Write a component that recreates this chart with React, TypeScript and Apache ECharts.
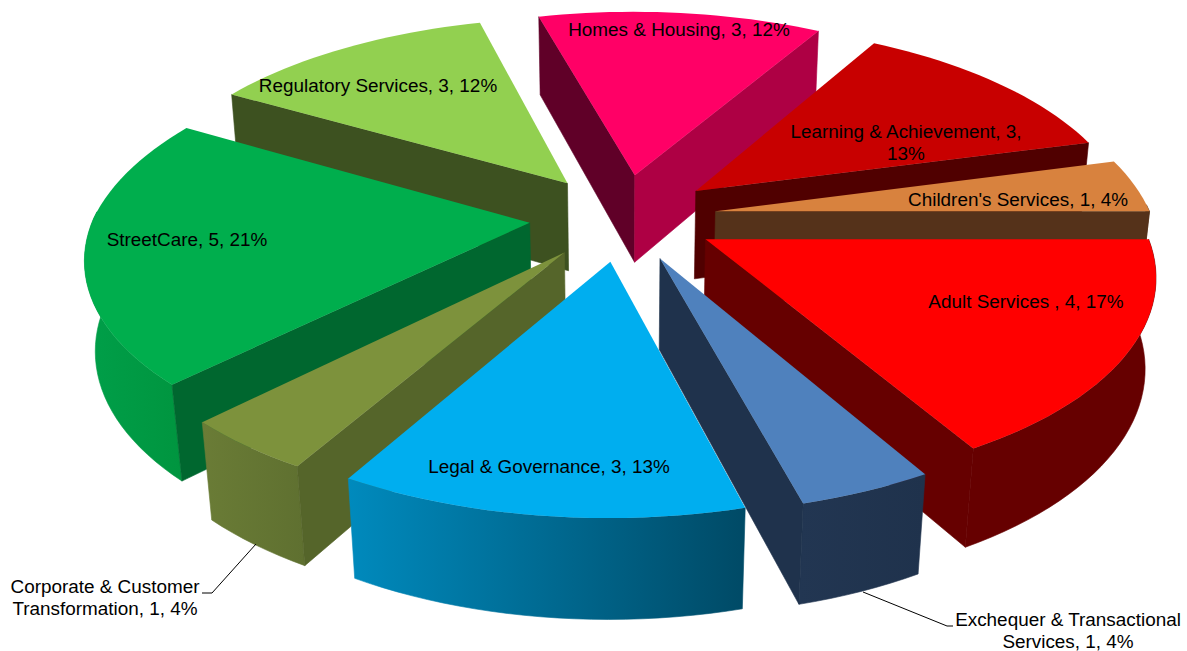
import React, { useEffect, useRef } from "react";
import * as echarts from "echarts";

// Headcount per service, clockwise from the three o'clock position.
const names = [
  "Adult Services ",
  "Exchequer & Transactional Services",
  "Legal & Governance",
  "Corporate & Customer Transformation",
  "StreetCare",
  "Regulatory Services",
  "Homes & Housing",
  "Learning & Achievement",
  "Children's Services",
];
const values = [4, 1, 3, 1, 5, 3, 3, 3, 1];
const percents = [17, 4, 13, 4, 21, 12, 12, 13, 4];

// Face colours: top, cut wall, rim gradient left and right.
const palette = [
  ["#FF0000", "#660000", "#660000", "#660000"],
  ["#4F81BD", "#1F324C", "#223652", "#1F324C"],
  ["#00AEEF", "#00506E", "#008ABD", "#004A66"],
  ["#7D923C", "#55652A", "#6A7C36", "#5F7030"],
  ["#00AE4D", "#00672F", "#009F49", "#00953F"],
  ["#92D050", "#3D5120", "#3D5120", "#3D5120"],
  ["#FF0066", "#AE0044", "#AE0044", "#AE0044"],
  ["#C80000", "#500000", "#500000", "#500000"],
  ["#D8823E", "#55321A", "#55321A", "#55321A"],
];
// Left-hand cut wall of the slice that shows both of its cut faces.
const startWallColours: Record<number, string> = { 6: "#600028" };

// Text placement, as centre x / middle y, and where a label wraps.
const labelLayout = [
  { x: 1026, y: 301 },
  { x: 1068, y: 630, wrap: "Transactional " },
  { x: 549, y: 466 },
  { x: 105, y: 597, wrap: "Customer " },
  { x: 187, y: 239 },
  { x: 378, y: 85 },
  { x: 679, y: 29 },
  { x: 906, y: 142, wrap: "3, " },
  { x: 1018, y: 199 },
];

// Projection of the tilted pie onto the page.
const CX = 623;
const CY = 217;
const RX = 436;
const RY = 203;
const PERSPECTIVE_FRONT = 0.15;
const PERSPECTIVE_BACK = 0.165;
const EXPLODE = 0.215;
const DEPTH = 91;
const DEPTH_SHRINK = 0.02;
// Rim sections further back than this face away from the viewer.
const RIM_VISIBLE_SIN = -0.06;

const total = values.reduce((a, b) => a + b, 0);
const startAngles = values.map((_, i) =>
  (values.slice(0, i).reduce((a, b) => a + b, 0) / total) * 360
);
const middleSin = values.map((v, i) =>
  Math.sin(((startAngles[i] + ((v / total) * 360) / 2) * Math.PI) / 180)
);
const drawOrder = values.map((_, i) => i).sort((a, b) => middleSin[a] - middleSin[b]);

const project = (px: number, py: number, lower: boolean) => {
  const k = py < 0 ? PERSPECTIVE_BACK : PERSPECTIVE_FRONT;
  const s = 1 / (1 - k * py + (lower ? DEPTH_SHRINK : 0));
  return [
    CX + RX * px * s,
    CY + (RY * py + (lower ? DEPTH : 0)) * s,
  ];
};

const shoelace = (pts: number[][]) => {
  let a = 0;
  pts.forEach((p, i) => {
    const q = pts[(i + 1) % pts.length];
    a += p[0] * q[1] - q[0] * p[1];
  });
  return a;
};

const renderSlice = (params: any, api: any) => {
  const index = api.value(0);
  const sweep = (api.value(1) / total) * 2 * Math.PI;
  const a0 = (api.value(2) * Math.PI) / 180;
  const a1 = a0 + sweep;
  const mid = (a0 + a1) / 2;
  const ox = EXPLODE * Math.cos(mid);
  const oy = EXPLODE * Math.sin(mid);
  const rim: number[][] = [];
  const visible: boolean[] = [];
  const steps = Math.max(8, Math.round(sweep * 30));
  for (let k = 0; k <= steps; k++) {
    const a = a0 + (sweep * k) / steps;
    rim.push([ox + Math.cos(a), oy + Math.sin(a)]);
    visible.push(Math.sin(a) >= RIM_VISIBLE_SIN);
  }
  const topRim = rim.map((p) => project(p[0], p[1], false));
  const lowRim = rim.map((p) => project(p[0], p[1], true));
  const apexTop = project(ox, oy, false);
  const apexLow = project(ox, oy, true);
  const [top, wall, rimLeft, rimRight] = palette[index];

  const children: any[] = [];
  const frontTop = topRim.filter((_, k) => visible[k]);
  const frontLow = lowRim.filter((_, k) => visible[k]);
  if (frontTop.length > 1) {
    const rimFill = new echarts.graphic.LinearGradient(0, 0, 1, 0, [
      { offset: 0, color: rimLeft },
      { offset: 1, color: rimRight },
    ]);
    children.push({
      type: "polygon",
      shape: { points: [...frontTop, ...[...frontLow].reverse()] },
      style: { fill: rimFill, stroke: rimFill, lineWidth: 0.6 },
    });
  }
  const startFace = [apexTop, topRim[0], lowRim[0], apexLow];
  if (shoelace(startFace) < 0) {
    const fill = startWallColours[index] ?? wall;
    children.push({
      type: "polygon",
      shape: { points: startFace },
      style: { fill, stroke: fill, lineWidth: 0.6 },
    });
  }
  const endFace = [apexTop, topRim[steps], lowRim[steps], apexLow];
  if (shoelace(endFace) > 0) {
    children.push({
      type: "polygon",
      shape: { points: endFace },
      style: { fill: wall, stroke: wall, lineWidth: 0.6 },
    });
  }
  children.push({
    type: "polygon",
    shape: { points: [apexTop, ...topRim] },
    style: { fill: top },
  });
  return { type: "group", children };
};

const labelText = (i: number) => {
  const text = `${names[i]}, ${values[i]}, ${percents[i]}%`;
  const wrap = labelLayout[i].wrap;
  return wrap ? text.replace(wrap, wrap.trimEnd() + "\n") : text;
};

const leader = (points: number[][]) => ({
  type: "polyline",
  z: 10,
  silent: true,
  shape: { points },
  style: { stroke: "#000000", lineWidth: 1, fill: "none" },
});

export default function App() {
  const ref = useRef<HTMLDivElement>(null);
  useEffect(() => {
    const chart = echarts.init(ref.current!, undefined, { renderer: "svg" });
    chart.setOption({
      animation: false,
      backgroundColor: "#ffffff",
      series: [
        {
          type: "custom",
          coordinateSystem: "none",
          silent: true,
          renderItem: renderSlice,
          data: drawOrder.map((i) => ({
            name: names[i],
            value: [i, values[i], startAngles[i]],
          })),
        },
      ],
      graphic: {
        elements: [
          ...names.map((_, i) => ({
            type: "text",
            z: 10,
            silent: true,
            x: labelLayout[i].x,
            y: labelLayout[i].y,
            style: {
              text: labelText(i),
              fill: "#000000",
              fontSize: 18.9,
              fontFamily: '"Liberation Sans", Arial, sans-serif',
              align: "center",
              verticalAlign: "middle",
              lineHeight: 22,
            },
          })),
          leader([[202, 593], [212, 593], [256, 544]]),
          leader([[863, 592], [947, 626], [953, 626]]),
        ],
      },
    });
    return () => chart.dispose();
  }, []);
  return (
    <div
      ref={ref}
      style={{ position: "absolute", left: 0, top: 0, width: 1187, height: 651 }}
    />
  );
}
